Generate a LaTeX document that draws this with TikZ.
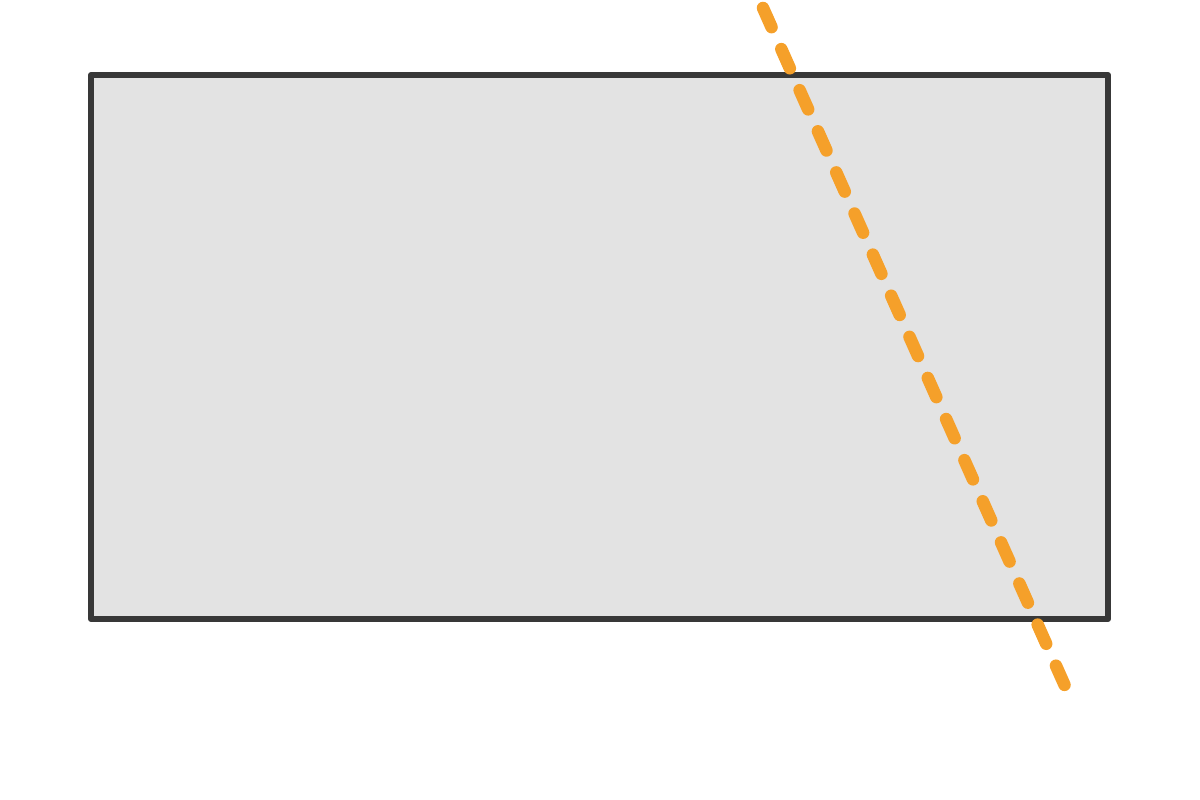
\documentclass[tikz,border=0pt]{standalone}
\begin{document}
\begin{tikzpicture}[x=1pt,y=1pt,
  boxstyle/.style={draw=black!78, fill=black!11, line width=6pt, line join=round, outer sep=0pt, inner sep=0pt},
  cutline/.style={draw={rgb,255:red,245;green,160;blue,42}, line width=12.5pt, line cap=round, dash pattern=on 21pt off 24pt}]
\useasboundingbox (0,0) rectangle (1200,800);
\node[boxstyle, minimum width=1017pt, minimum height=544pt, anchor=south west] (box) at (91,181) {};
\coordinate (p) at (763,792);
\coordinate (q) at (1065,114);
\draw[cutline] (p) -- (q);
\end{tikzpicture}
\end{document}
